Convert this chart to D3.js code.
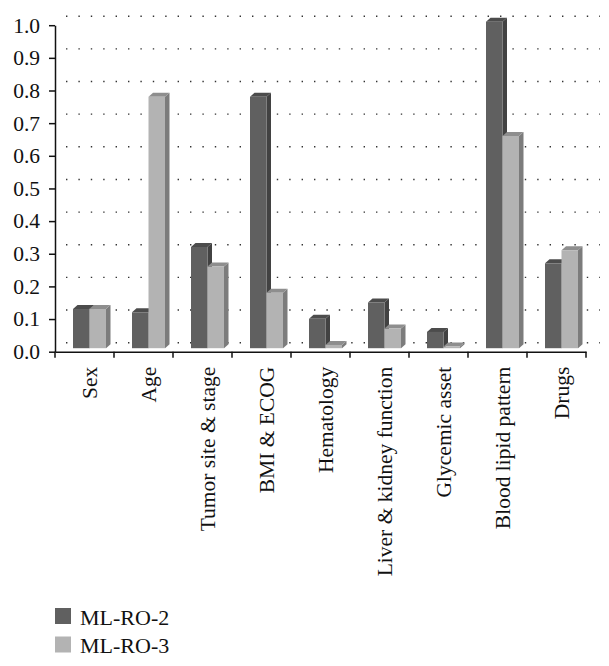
<!DOCTYPE html>
<meta charset="utf-8">
<style>
body { margin: 0; background: #fff; }
text { font-family: "Liberation Serif", "Times New Roman", serif; fill: #111; }
.grid { stroke: #333; stroke-width: 1.4px; stroke-dasharray: 1.4,11; fill: none; }
.axis path, .axis line { stroke: #111; stroke-width: 1.5px; }
</style>
<body>
<script src="https://cdn.jsdelivr.net/npm/d3@7"></script>
<script>

// categories and values
var categories = ["Sex", "Age", "Tumor site & stage", "BMI & ECOG", "Hematology",
                  "Liver & kidney function", "Glycemic asset", "Blood lipid pattern", "Drugs"];
var mlro2 = [0.12, 0.11, 0.31, 0.77, 0.09, 0.14, 0.05, 1.00, 0.26];
var mlro3 = [0.12, 0.77, 0.25, 0.17, 0.01, 0.06, 0.005, 0.65, 0.30];
var seriesNames = ["ML-RO-2", "ML-RO-3"];
var yTicks = [0, 0.1, 0.2, 0.3, 0.4, 0.5, 0.6, 0.7, 0.8, 0.9, 1.0];

// face colours: front, top, side
var palette = [
  {front: "#606060", top: "#4c4c4c", side: "#424242"},
  {front: "#b3b3b3", top: "#8e8e8e", side: "#7c7c7c"}
];

var width = 609,
    height = 666;

var svg = d3.select("body").append("svg")
    .attr("width", width)
    .attr("height", height);

var x = d3.scaleBand()
    .domain(categories)
    .range([55, 586]);

var y = d3.scaleLinear()
    .domain([0, 1])
    .range([351.7, 25.2]);

var depthX = 4.5, depthY = 4,     // bar depth
    wallX = 11, wallY = 9,        // back wall offset
    lift = 3.5,                   // bars sit slightly above the axis
    barW = 16.5;

// dotted back-wall gridlines
svg.append("g").selectAll("line")
    .data(yTicks)
  .enter().append("line")
    .attr("class", "grid")
    .attr("x1", 55 + wallX)
    .attr("x2", 600)
    .attr("y1", function(d) { return y(d) - wallY; })
    .attr("y2", function(d) { return y(d) - wallY; });

// bars
var bars = [];
categories.forEach(function(c, i) {
  bars.push({cat: c, s: 0, v: mlro2[i]});
  bars.push({cat: c, s: 1, v: mlro3[i]});
});

var g = svg.append("g").selectAll("g")
    .data(bars)
  .enter().append("g");

function x0(d) { return x(d.cat) + 18 + d.s * barW; }
function yb() { return y(0) - lift; }
function yt(d) { return y(d.v) - lift; }

g.append("path")
    .attr("fill", function(d) { return palette[d.s].side; })
    .attr("d", function(d) {
      var a = x0(d) + barW;
      return "M" + a + "," + yb() + "L" + (a + depthX) + "," + (yb() - depthY) +
             "L" + (a + depthX) + "," + (yt(d) - depthY) + "L" + a + "," + yt(d) + "Z";
    });

g.append("path")
    .attr("fill", function(d) { return palette[d.s].top; })
    .attr("d", function(d) {
      var a = x0(d), t = yt(d);
      return "M" + a + "," + t + "L" + (a + barW) + "," + t +
             "L" + (a + barW + depthX) + "," + (t - depthY) + "L" + (a + depthX) + "," + (t - depthY) + "Z";
    });

g.append("rect")
    .attr("fill", function(d) { return palette[d.s].front; })
    .attr("x", x0)
    .attr("y", yt)
    .attr("width", barW)
    .attr("height", function(d) { return yb() - yt(d); });

// y axis
var yAxis = svg.append("g")
    .attr("class", "axis")
    .attr("transform", "translate(55,0)")
    .call(d3.axisLeft(y).tickValues(yTicks).tickFormat(d3.format(".1f")).tickSize(6).tickSizeOuter(0));
yAxis.selectAll("text")
    .attr("x", -15)
    .style("font-size", "21.5px")
    .style("font-family", "Liberation Serif");

// x axis
var xAxis = svg.append("g")
    .attr("class", "axis")
    .attr("transform", "translate(0," + y(0) + ")")
    .call(d3.axisBottom(x).tickSize(0).tickSizeOuter(0).tickFormat(""));

xAxis.selectAll(".bound")
    .data(d3.range(categories.length + 1))
  .enter().append("line")
    .attr("x1", function(i) { return 55 + i * x.bandwidth(); })
    .attr("x2", function(i) { return 55 + i * x.bandwidth(); })
    .attr("y1", 0)
    .attr("y2", 6)
    .attr("stroke", "#111")
    .attr("stroke-width", 1.5);

svg.append("g").selectAll("text")
    .data(categories)
  .enter().append("text")
    .attr("transform", function(d) {
      return "translate(" + (x(d) + 35) + "," + (y(0) + 15) + ") rotate(-90)";
    })
    .attr("text-anchor", "end")
    .attr("dy", "0.33em")
    .style("font-size", "21.5px")
    .text(function(d) { return d; });

// legend
var legend = svg.append("g").selectAll("g")
    .data(seriesNames)
  .enter().append("g")
    .attr("transform", function(d, i) { return "translate(55," + (608 + i * 28.5) + ")"; });

legend.append("rect")
    .attr("width", 16)
    .attr("height", 16)
    .attr("fill", function(d, i) { return palette[i].front; });

legend.append("text")
    .attr("x", 25)
    .attr("y", 16.5)
    .style("font-size", "22px")
    .text(function(d) { return d; });

</script>
